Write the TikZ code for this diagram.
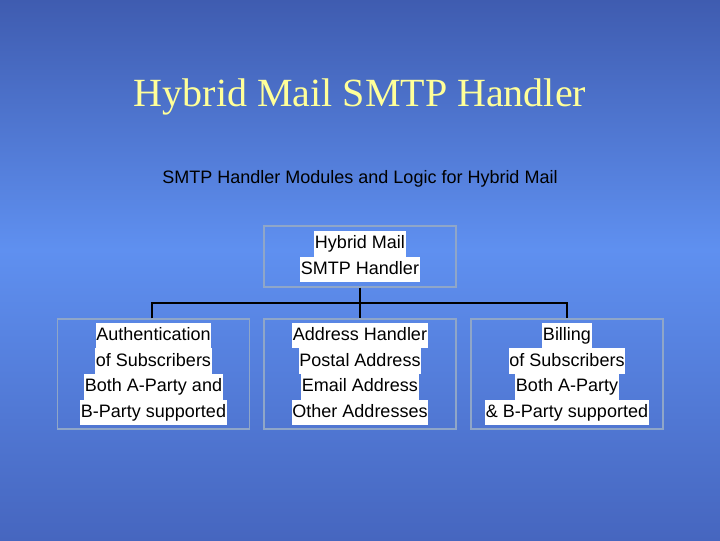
\documentclass[tikz,border=0pt]{standalone}
\usepackage{fontspec}
\setmainfont{Liberation Serif}
\setsansfont{Liberation Sans}
\definecolor{bgtop}{HTML}{3F5CB0}
\definecolor{bgmid}{HTML}{5F90F0}
\definecolor{bgbot}{HTML}{4666BF}
\definecolor{ttl}{HTML}{FFFF99}
\definecolor{boxline}{HTML}{8FA6C8}
\newcommand{\hl}[1]{{\setlength{\fboxsep}{0.6pt}\colorbox{white}{\strut #1}}}
\tikzset{
  mod/.style={draw=boxline, line width=0.8pt, minimum width=144pt, minimum height=82.5pt, align=center, font=\sffamily\fontsize{13.5}{18}\selectfont, inner sep=0pt},
  conn/.style={draw=black, line width=0.8pt}
}
\begin{document}
\begin{tikzpicture}[x=0.75pt,y=-0.75pt]
\useasboundingbox (0,0) rectangle (720,540);
\shade[top color=bgtop, bottom color=bgmid] (0,0) rectangle (720,250);
\shade[top color=bgmid, bottom color=bgbot] (0,249.5) rectangle (720,540);
\node[text=ttl, font=\fontsize{30}{34}\selectfont] (title) at (360,97) {Hybrid Mail SMTP Handler};
\node[font=\sffamily\fontsize{13.5}{16}\selectfont] (sub) at (360,179) {SMTP Handler Modules and Logic for Hybrid Mail};
\node[mod, minimum height=45.75pt] (top) at (360,256.5) {\hl{Hybrid Mail}\\[-1pt]\hl{SMTP Handler}};
\node[mod] (a) at (153.5,374) {\hl{Authentication}\\[-1pt]\hl{of Subscribers}\\[-1pt]\hl{Both A-Party and}\\[-1pt]\hl{B-Party supported}};
\node[mod] (b) at (360,374) {\hl{Address Handler}\\[-1pt]\hl{Postal Address}\\[-1pt]\hl{Email Address}\\[-1pt]\hl{Other Addresses}};
\node[mod] (c) at (567,374) {\hl{Billing}\\[-1pt]\hl{of Subscribers}\\[-1pt]\hl{Both A-Party}\\[-1pt]\hl{\& B-Party supported}};
\coordinate (j) at (360,303);
\draw[conn] (top.south) -- (j);
\draw[conn] (a.north -| 152,0) |- (j) -| (c.north);
\draw[conn] (j) -- (b.north);
\end{tikzpicture}
\end{document}
